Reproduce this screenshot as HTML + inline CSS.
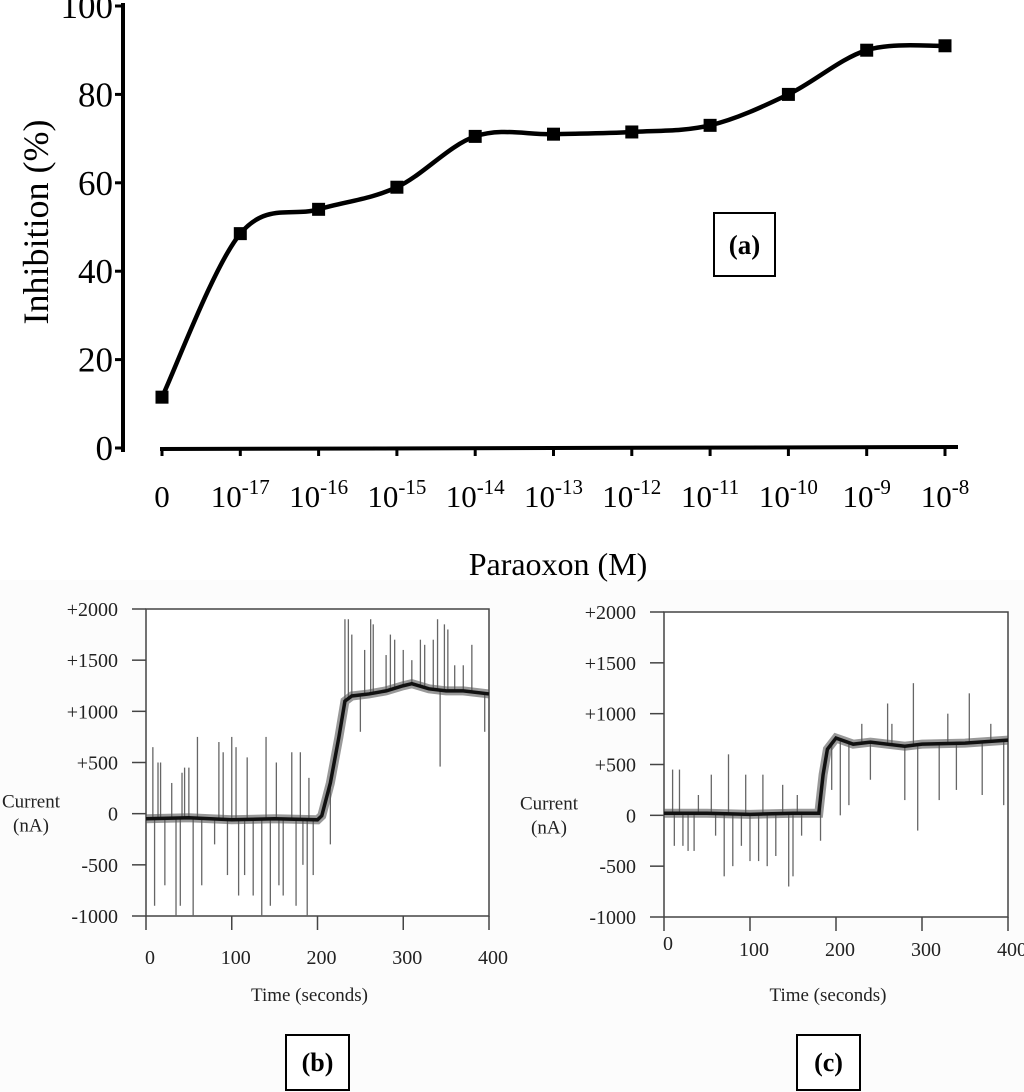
<!DOCTYPE html>
<html><head><meta charset="utf-8"><style>
body{margin:0;background:#fff;}
svg{display:block;font-family:"Liberation Serif",serif;}
</style></head><body>
<svg id="fig" width="1024" height="1092" viewBox="0 0 1024 1092">
<rect x="0" y="580" width="1024" height="512" fill="#fcfcfc"/>
<rect x="0" y="0" width="1024" height="580" fill="#fff"/>
<g id="a"></g><g id="b"></g><g id="c"></g>
</svg>
<script>
const catLabels=["0","-17","-16","-15","-14","-13","-12","-11","-10","-9","-8"];
const inhib=[11.5,48.5,54,59,70.5,71,71.5,73,80,90,91];
const yTicks=[0,20,40,60,80,100];
const bTimes=[0,50,100,150,200,205,215,225,232,240,260,280,300,310,330,350,370,400];
const bMean=[-50,-40,-60,-50,-60,-20,300,750,1100,1150,1170,1200,1250,1270,1220,1200,1200,1170];
const bSpikeT=[8,10,14,17,22,30,35,40,42,45,50,55,60,65,80,85,90,95,100,105,108,115,118,125,135,140,145,152,155,160,170,175,180,183,188,190,195,215,232,236,240,250,255,262,265,280,285,290,300,310,320,325,335,340,343,348,352,360,370,380,395];
const bSpikeV=[650,-900,500,500,-700,300,-1000,-900,400,450,450,-1000,750,-700,-300,700,600,-600,750,650,-800,-600,550,-800,-1000,750,-900,500,-700,-800,600,-900,600,-500,-1000,350,-600,-300,1900,1900,1750,800,1600,1900,1850,1550,1750,1700,1600,1500,1700,1650,1700,1900,460,1850,1800,1450,1450,1650,800];
const cTimes=[0,50,100,150,180,185,190,200,220,240,280,300,350,400];
const cMean=[20,20,10,20,20,400,650,760,700,720,680,700,710,740];
const cSpikeT=[10,12,18,22,28,35,40,55,60,70,75,80,90,95,100,110,115,120,130,138,145,150,155,160,182,195,205,215,230,240,260,265,280,290,295,310,320,330,340,355,370,380,395];
const cSpikeV=[450,-300,450,-300,-350,-350,200,400,-200,-600,600,-500,-300,400,-450,-450,400,-500,-400,300,-700,-600,200,-200,-250,250,0,100,900,350,1100,900,150,1300,-150,700,150,1000,250,1200,200,900,100];
const bTicks=[-1000,-500,0,500,1000,1500,2000];
const tTicks=[0,100,200,300,400];
const NS="http://www.w3.org/2000/svg";
function mk(p,t,a,txt){const e=document.createElementNS(NS,t);for(const k in a)e.setAttribute(k,a[k]);if(txt!==undefined)e.textContent=txt;p.appendChild(e);return e;}
// ---- chart a
const A=document.getElementById('a');
const ax=i=>162+i*78.3, ay=v=>448-v*4.42;
let e=mk(A,'line',{x1:123,y1:3,x2:123,y2:452,stroke:'#000','stroke-width':4});

yTicks.forEach(v=>{e=mk(A,'line',{x1:115,y1:ay(v),x2:123,y2:ay(v),stroke:'#000','stroke-width':3});

e=mk(A,'text',{x:113,y:ay(v)+12,'text-anchor':'end','font-size':35},String(v));
});
e=mk(A,'line',{x1:160,y1:449,x2:958,y2:447,stroke:'#000','stroke-width':4});

catLabels.forEach((l,i)=>{e=mk(A,'line',{x1:ax(i),y1:448,x2:ax(i),y2:456,stroke:'#000','stroke-width':3});

const t=mk(A,'text',{x:ax(i),y:507,'text-anchor':'middle','font-size':31});

if(l==="0"){t.textContent="0";}else{t.textContent="10";mk(t,'tspan',{dy:-13,'font-size':21},l);}});
const P=inhib.map((v,i)=>[ax(i),ay(v)]);
let d=`M${P[0][0]},${P[0][1]}`;
for(let i=0;i<P.length-1;i++){const p0=P[Math.max(0,i-1)],p1=P[i],p2=P[i+1],p3=P[Math.min(P.length-1,i+2)];
const c1=[p1[0]+(p2[0]-p0[0])/6,p1[1]+(p2[1]-p0[1])/6],c2=[p2[0]-(p3[0]-p1[0])/6,p2[1]-(p3[1]-p1[1])/6];
d+=` C${c1[0]},${c1[1]} ${c2[0]},${c2[1]} ${p2[0]},${p2[1]}`;}
e=mk(A,'path',{d:d,fill:'none',stroke:'#000','stroke-width':4.5});

inhib.forEach((v,i)=>{e=mk(A,'rect',{x:ax(i)-6.5,y:ay(v)-6.5,width:13,height:13,fill:'#000'});
});
e=mk(A,'text',{x:0,y:0,'text-anchor':'middle','font-size':36,transform:'translate(48,222) rotate(-90)'},'Inhibition (%)');

e=mk(A,'text',{x:558,y:575,'text-anchor':'middle','font-size':32},'Paraoxon (M)');

e=mk(A,'rect',{x:714,y:213,width:61,height:63,fill:'#fff',stroke:'#000','stroke-width':2});

e=mk(A,'text',{x:744.5,y:254,'text-anchor':'middle','font-size':27,'font-weight':'bold'},'(a)');

// ---- traces
function trace(G,x0,x1,y0,y1,times,mean,sT,sV,yTickX,tickLabelY,name){
 const sx=t=>x0+t/400*(x1-x0), sy=v=>y1-(v+1000)/3000*(y1-y0);
 let e=mk(G,'rect',{x:x0,y:y0,width:x1-x0,height:y1-y0,fill:'#fff',stroke:'#444','stroke-width':1.5});
 
 bTicks.forEach(v=>{e=mk(G,'line',{x1:x0-14,y1:sy(v),x2:x0,y2:sy(v),stroke:'#444','stroke-width':1.5});
 
 e=mk(G,'text',{x:yTickX,y:sy(v)+7,'text-anchor':'end','font-size':20,fill:'#222'},v>0?'+'+v:String(v));
 });
 tTicks.forEach((v,i)=>{e=mk(G,'line',{x1:sx(v),y1:y1,x2:sx(v),y2:y1+14,stroke:'#444','stroke-width':1.5});
 
 e=mk(G,'text',{x:sx(v)+4,y:tickLabelY[i],'text-anchor':'middle','font-size':20,fill:'#222'},String(v));
 });
 sT.forEach((t,i)=>{const m=interp(times,mean,t);e=mk(G,'line',{x1:sx(t),y1:sy(m),x2:sx(t),y2:sy(sV[i]),stroke:'#666','stroke-width':1.3});
 });
 e=mk(G,'polyline',{points:times.map((t,i)=>sx(t)+','+sy(mean[i])).join(' '),fill:'none',stroke:'#555','stroke-width':9,'stroke-opacity':0.6});
 
 e=mk(G,'polyline',{points:times.map((t,i)=>sx(t)+','+sy(mean[i])).join(' '),fill:'none',stroke:'#111','stroke-width':3.5});
 
 e=mk(G,'text',{x:31,y:sy(0)-6,'text-anchor':'middle','font-size':19,fill:'#222'},'Current');
 
 e=mk(G,'text',{x:31,y:sy(0)+18,'text-anchor':'middle','font-size':19,fill:'#222'},'(nA)');
 
 e=mk(G,'text',{x:(x0+x1)/2-8,y:1001,'text-anchor':'middle','font-size':19,fill:'#222'},'Time (seconds)');
 
}
function interp(ts,vs,t){for(let i=1;i<ts.length;i++)if(t<=ts[i]){const f=(t-ts[i-1])/(ts[i]-ts[i-1]);return vs[i-1]+f*(vs[i]-vs[i-1]);}return vs[vs.length-1];}
const B=document.getElementById('b'),C=document.getElementById('c');
trace(B,146,489,609,916,bTimes,bMean,bSpikeT,bSpikeV,118,[964,964,964,964,964],'panel-b');
const Cg=mk(C,'g',{transform:'translate(518,0)'});
trace(Cg,146,490,612,917,cTimes,cMean,cSpikeT,cSpikeV,118,[950,956,956,956,956],'panel-c');
[[286,'(b)'],[797,'(c)']].forEach(([x,l])=>{let e=mk(A,'rect',{x:x,y:1035,width:63,height:55,fill:'#fff',stroke:'#000','stroke-width':2});

e=mk(A,'text',{x:x+31.5,y:1071,'text-anchor':'middle','font-size':26,'font-weight':'bold'},l);
});
</script>
</body></html>
